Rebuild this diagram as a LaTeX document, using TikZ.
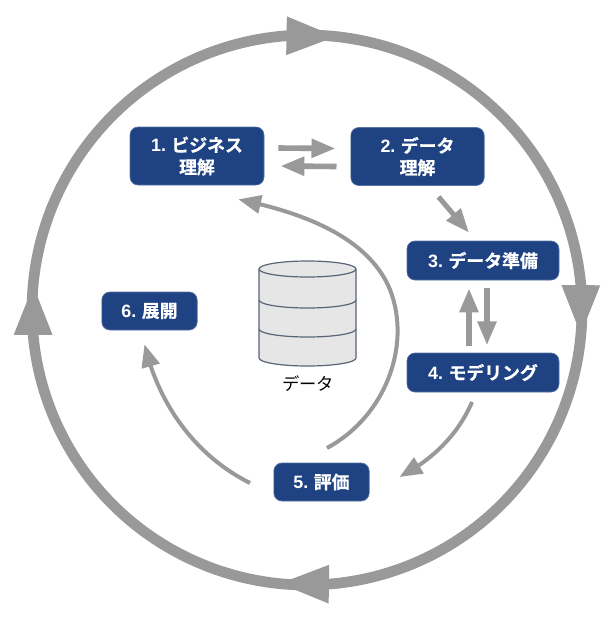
\documentclass[tikz,border=0pt]{standalone}
\usepackage{fontspec}
\usetikzlibrary{arrows.meta,calc,bending}
\newfontfamily\jpb[BoldFont={Noto Sans CJK JP Bold},BoldFeatures={FakeBold=0.6}]{Noto Sans CJK JP}
\newfontfamily\lab[BoldFont={Liberation Sans Bold}]{Liberation Sans}
\definecolor{stepblue}{HTML}{1F4283}
\definecolor{arrowgrey}{HTML}{999999}
\definecolor{cylfill}{HTML}{E6E6E6}
\definecolor{cyledge}{HTML}{5A6478}
\newcommand{\num}[1]{{\lab\bfseries #1}}
\tikzset{
  stepbox/.style={draw=stepblue!75!white,line width=.5pt,fill=stepblue,rounded corners=6pt,text=white,
    font=\jpb\bfseries\fontsize{13.4pt}{16.5pt}\selectfont,align=center,inner sep=0pt,minimum height=#1},
  ringarrow/.style={draw=arrowgrey,line width=8pt,-{Triangle[length=38pt,width=26.5pt,flex=1]}},
  pairarrow/.style={draw=arrowgrey,line width=4.2pt,-{Triangle[length=18pt,width=13.5pt]}},
  curvearrow/.style={draw=arrowgrey,line width=3pt,-{Triangle[length=17pt,width=13.5pt,flex=1]}},
  cyl/.style={draw=cyledge,line width=.9pt},
}
\begin{document}
\begin{tikzpicture}[x=.75pt,y=-.75pt]
\useasboundingbox (0,0) rectangle (609,619);
% outer ring
\coordinate (ringc) at (307,310);
\def\rr{275}
\draw[ringarrow] ($(ringc)+(180.5:\rr)$) arc[start angle=180.5,end angle=276.3,radius=\rr];
\draw[ringarrow] ($(ringc)+(271.3:\rr)$) arc[start angle=271.3,end angle=365.4,radius=\rr];
\draw[ringarrow] ($(ringc)+(0.4:\rr)$) arc[start angle=0.4,end angle=96,radius=\rr];
\draw[ringarrow] ($(ringc)+(91:\rr)$) arc[start angle=91,end angle=185.4,radius=\rr];
% steps
\node[stepbox=58*.75pt,minimum width=100.5pt] (n1) at (197,156) {\num{1.} ビジネス\\理解};
\node[stepbox=58*.75pt,minimum width=100pt] (n2) at (417.5,156.5) {\num{2.} データ\\理解};
\node[stepbox=39*.75pt,minimum width=114pt] (n3) at (483,260.5) {\num{3.} データ準備};
\node[stepbox=39*.75pt,minimum width=114pt] (n4) at (483,372.5) {\num{4.} モデリング};
\node[stepbox=38*.75pt,minimum width=71.5pt] (n5) at (321.5,482) {\num{5.} 評価};
\node[stepbox=38*.75pt,minimum width=71.5pt] (n6) at (149.5,311) {\num{6.} 展開};
% connectors
\draw[pairarrow] ([shift={(14,-8)}]n1.east) -- ([shift={(-15,-8)}]n2.west);
\draw[pairarrow] ([shift={(-14,10)}]n2.west) -- ([shift={(16,10)}]n1.east);
\draw[pairarrow,line width=3.8pt] ([shift={(-46,11)}]n2.south east) -- ([shift={(-14,-8)}]n3.north);
\draw[pairarrow] ([shift={(-14,66)}]n3.south) -- ([shift={(-14,8)}]n3.south);
\draw[pairarrow] ([shift={(4,8)}]n3.south) -- ([shift={(4,65)}]n3.south);
\coordinate (e4) at (472,402);
\draw[curvearrow] (e4) .. controls (458,435) and (432,460) .. ([shift={(30,-5)}]n5.east);
\coordinate (s5a) at (250,483);
\draw[curvearrow] (s5a) .. controls (200,458) and (160,410) .. ([shift={(-5,14)}]n6.south);
\coordinate (s5b) at (327,448);
\draw[curvearrow] (s5b) .. controls (388,415) and (413,340) .. (388,285) .. controls (364,235) and (300,212) .. ([shift={(-26,14)}]n1.south east);
% data store
\node[inner sep=0pt,font=\jpb\fontsize{13pt}{15pt}\selectfont,text=black] (dlabel) at (308,384) {データ};
\fill[cylfill] (259,269) -- (356,269) -- (356,358) arc[start angle=0,end angle=180,x radius=48.5,y radius=8] -- cycle;
\fill[cylfill] (307.5,269) ellipse[x radius=48.5,y radius=8];
\draw[cyl] (307.5,269) ellipse[x radius=48.5,y radius=8];
\draw[cyl] (259,269) -- (259,358) arc[start angle=180,end angle=0,x radius=48.5,y radius=8] -- (356,269);
\draw[cyl] (259,300) arc[start angle=180,end angle=0,x radius=48.5,y radius=8];
\draw[cyl] (259,329) arc[start angle=180,end angle=0,x radius=48.5,y radius=8];
\end{tikzpicture}
\end{document}
